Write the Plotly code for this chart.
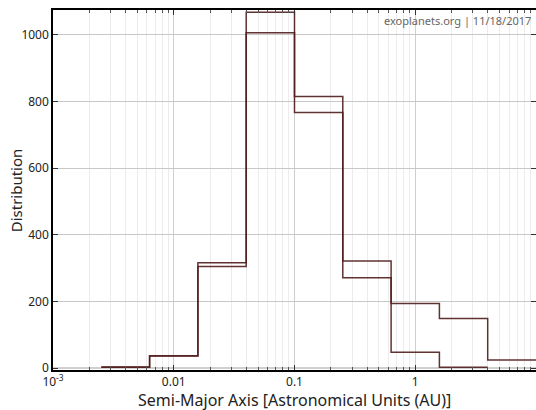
import plotly.graph_objects as go

# Bin edges (log-spaced, AU)
bin_edges = [10**-2.6, 10**-2.2, 10**-1.8, 10**-1.4, 10**-1.0,
             10**-0.6, 10**-0.2, 10**0.2, 10**0.6, 10**1.0]
# Counts per bin for the two distributions
counts_a = [3, 37, 316, 1068, 815, 321, 194, 149, 24]
counts_b = [2, 36, 305, 1007, 767, 271, 47, 2, 0]

x_tick_vals = [0.001, 0.01, 0.1, 1, 10]
x_tick_text = ["10<sup>-3</sup>", "0.01", "0.1", "1", "10"]
y_tick_vals = [0, 200, 400, 600, 800, 1000]

line_color = "rgba(80,28,28,0.9)"
FONT = "Noto Sans"

def step_xy(edges, counts):
    # trim trailing empty bins
    n = len(counts)
    while n > 0 and counts[n - 1] == 0:
        n -= 1
    xs = list(edges[: n + 1])
    ys = list(counts[:n]) + [counts[n - 1]]
    return xs, ys

fig = go.Figure()
for cnt, name in [(counts_b, "B"), (counts_a, "A")]:
    xs, ys = step_xy(bin_edges, cnt)
    fig.add_trace(go.Scatter(x=xs, y=ys, mode="lines", line_shape="hv",
                             line=dict(color=line_color, width=1.5),
                             name=name, showlegend=False, hoverinfo="skip"))

minor_vals = [m * 10**e for e in range(-3, 1) for m in range(2, 10)]

fig.update_layout(
    width=536, height=410,
    margin=dict(l=53, r=0, t=10, b=40, autoexpand=False),
    paper_bgcolor="white", plot_bgcolor="white",
    font=dict(family=FONT, size=12, color="#222"),
    xaxis=dict(
        type="log", range=[-3, 1], automargin=False,
        tickvals=x_tick_vals, ticktext=x_tick_text,
        showgrid=True, gridcolor="#cfcfcf", gridwidth=1.2,
        minor=dict(tickvals=minor_vals, showgrid=True, gridcolor="#ececec",
                   ticks="inside", ticklen=3, tickcolor="#555"),
        ticks="inside", ticklen=5, tickcolor="#333",
        showline=True, linecolor="black", linewidth=1.5, mirror="ticks",
        tickfont=dict(size=12),
    ),
    yaxis=dict(
        range=[-6, 1075], automargin=False,
        tickvals=y_tick_vals,
        showgrid=True, gridcolor="#c8c8c8", gridwidth=1,
        zeroline=True, zerolinecolor="#d0d0d0", zerolinewidth=2,
        ticks="inside", ticklen=5, tickcolor="#333",
        showline=True, linecolor="black", linewidth=1.5, mirror="ticks",
        tickfont=dict(size=12),
    ),
    annotations=[
        dict(text="exoplanets.org | 11/18/2017", xref="paper", yref="paper",
             x=0.993, y=0.997, xanchor="right", yanchor="top", showarrow=False,
             font=dict(size=11, color="#666", family=FONT)),
        dict(text="Semi-Major Axis [Astronomical Units (AU)]", xref="paper", yref="paper",
             x=0.5, y=-0.083, xanchor="center", yanchor="middle", showarrow=False,
             font=dict(size=16, color="#222", family=FONT)),
        dict(text="Distribution", xref="paper", yref="paper", textangle=-90,
             x=-0.076, y=0.5, xanchor="center", yanchor="middle", showarrow=False,
             font=dict(size=15, color="#222", family=FONT)),
    ],
)

fig.write_html("out.html", config={"displayModeBar": False},
               post_script="document.body.style.margin='0';")
